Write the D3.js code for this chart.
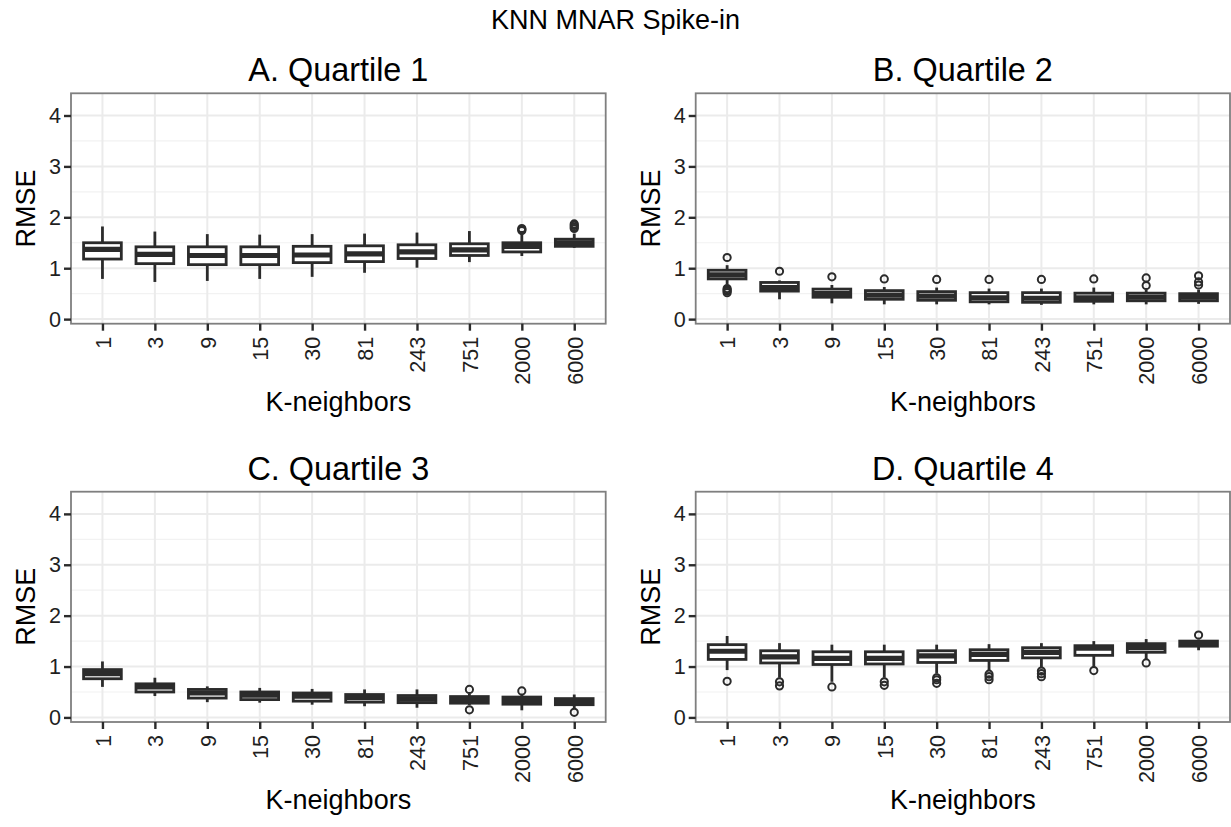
<!DOCTYPE html>
<html>
<head>
<meta charset="utf-8">
<script src="https://cdn.jsdelivr.net/npm/d3@7"></script>
<style>
  html, body { margin: 0; padding: 0; background: #ffffff; }
  svg { display: block; font-family: "Liberation Sans", Arial, Helvetica, sans-serif; }
</style>
</head>
<body>
<svg id="chart" width="1231" height="827"></svg>
<script>
// K-neighbour settings on the x axis
const kLabels = ["1", "3", "9", "15", "30", "81", "243", "751", "2000", "6000"];
const yTicks = [0, 1, 2, 3, 4];

// Quartile 1: box-plot statistics per K
const q1Low  = [0.79, 0.73, 0.75, 0.79, 0.83, 0.91, 1.01, 1.12, 1.24, 1.40];
const q1Q1   = [1.18, 1.09, 1.07, 1.07, 1.11, 1.13, 1.19, 1.25, 1.32, 1.43];
const q1Med  = [1.37, 1.27, 1.25, 1.25, 1.26, 1.28, 1.32, 1.36, 1.43, 1.50];
const q1Q3   = [1.50, 1.42, 1.42, 1.42, 1.43, 1.44, 1.46, 1.48, 1.50, 1.57];
const q1High = [1.82, 1.72, 1.67, 1.66, 1.67, 1.68, 1.70, 1.73, 1.68, 1.68];
const q1Out  = [[], [], [], [], [], [], [], [], [1.78, 1.76, 1.74], [1.87, 1.84, 1.81, 1.78]];

// Quartile 2
const q2Low  = [0.68, 0.39, 0.31, 0.29, 0.29, 0.29, 0.28, 0.29, 0.29, 0.30];
const q2Q1   = [0.79, 0.55, 0.43, 0.39, 0.37, 0.34, 0.33, 0.35, 0.36, 0.36];
const q2Med  = [0.87, 0.62, 0.50, 0.47, 0.45, 0.42, 0.41, 0.42, 0.43, 0.43];
const q2Q3   = [0.96, 0.72, 0.59, 0.56, 0.54, 0.52, 0.52, 0.51, 0.51, 0.50];
const q2High = [1.06, 0.76, 0.67, 0.63, 0.62, 0.60, 0.60, 0.62, 0.58, 0.58];
const q2Out  = [[1.21, 0.60, 0.57, 0.55, 0.52], [0.94], [0.83], [0.79], [0.78], [0.78], [0.78], [0.79], [0.81, 0.66], [0.85, 0.73, 0.67]];

// Quartile 3
const q3Low  = [0.60, 0.42, 0.30, 0.29, 0.25, 0.22, 0.19, 0.24, 0.14, 0.17];
const q3Q1   = [0.76, 0.50, 0.38, 0.35, 0.32, 0.30, 0.29, 0.28, 0.26, 0.25];
const q3Med  = [0.86, 0.60, 0.48, 0.44, 0.42, 0.39, 0.36, 0.35, 0.33, 0.31];
const q3Q3   = [0.94, 0.66, 0.55, 0.50, 0.48, 0.45, 0.43, 0.41, 0.40, 0.37];
const q3High = [1.10, 0.78, 0.61, 0.58, 0.56, 0.55, 0.55, 0.47, 0.45, 0.45];
const q3Out  = [[], [], [], [], [], [], [], [0.55, 0.15], [0.52], [0.10]];

// Quartile 4
const q4Low  = [0.93, 0.78, 0.70, 0.78, 0.86, 0.92, 0.97, 0.98, 1.14, 1.32];
const q4Q1   = [1.14, 1.07, 1.04, 1.05, 1.08, 1.12, 1.17, 1.22, 1.28, 1.40];
const q4Med  = [1.30, 1.19, 1.16, 1.16, 1.21, 1.24, 1.28, 1.36, 1.37, 1.46];
const q4Q3   = [1.43, 1.31, 1.29, 1.29, 1.31, 1.33, 1.37, 1.41, 1.45, 1.50];
const q4High = [1.60, 1.46, 1.43, 1.43, 1.43, 1.44, 1.46, 1.50, 1.54, 1.53];
const q4Out  = [[0.71], [0.70, 0.62], [0.60], [0.70, 0.63], [0.78, 0.74, 0.67], [0.85, 0.80, 0.74], [0.91, 0.86, 0.80], [0.92], [1.07], [1.62]];

const panelTitles = ["A. Quartile 1", "B. Quartile 2", "C. Quartile 3", "D. Quartile 4"];
const mainTitle = "KNN MNAR Spike-in";
const xTitle = "K-neighbors";
const yTitle = "RMSE";

function rows(lo, a, m, b, hi, out) {
  return kLabels.map((k, i) => ({ k, lo: lo[i], q1: a[i], med: m[i], q3: b[i], hi: hi[i], out: out[i] }));
}
const panelData = [
  rows(q1Low, q1Q1, q1Med, q1Q3, q1High, q1Out),
  rows(q2Low, q2Q1, q2Med, q2Q3, q2High, q2Out),
  rows(q3Low, q3Q1, q3Med, q3Q3, q3High, q3Out),
  rows(q4Low, q4Q1, q4Med, q4Q3, q4High, q4Out)
];

// plot-area frames for the 2 x 2 grid
const cols = [[71, 605.7], [695.7, 1230]];
const rowsY = [[93.3, 323.7], [491.7, 722]];

const svg = d3.select("#chart");
const ink = "#2b2b2b";
const labelInk = "#1f1f1f";

svg.append("text")
  .attr("x", 615.5).attr("y", 29)
  .attr("text-anchor", "middle")
  .style("font-size", "27px").style("fill", "#000")
  .text(mainTitle);

panelData.forEach((data, p) => {
  const [x0, x1] = cols[p % 2];
  const [y0, y1] = rowsY[Math.floor(p / 2)];

  const x = d3.scalePoint().domain(kLabels).range([x0, x1]).padding(0.6);
  const y = d3.scaleLinear().domain([-0.09, 4.436]).range([y1, y0]);
  const boxW = x.step() * 0.72;

  const g = svg.append("g");

  // grid
  const minor = [0.5, 1.5, 2.5, 3.5];
  g.selectAll(".minor").data(minor).join("line")
    .attr("x1", x0).attr("x2", x1)
    .attr("y1", d => y(d)).attr("y2", d => y(d))
    .attr("stroke", "#f2f2f2").attr("stroke-width", 1.2);
  g.selectAll(".majorY").data(yTicks).join("line")
    .attr("x1", x0).attr("x2", x1)
    .attr("y1", d => y(d)).attr("y2", d => y(d))
    .attr("stroke", "#ebebeb").attr("stroke-width", 2);
  g.selectAll(".majorX").data(kLabels).join("line")
    .attr("x1", d => x(d)).attr("x2", d => x(d))
    .attr("y1", y0).attr("y2", y1)
    .attr("stroke", "#ebebeb").attr("stroke-width", 2);

  // outliers
  const pts = [];
  data.forEach(d => d.out.forEach(v => pts.push({ k: d.k, v })));
  g.selectAll(".out").data(pts).join("circle")
    .attr("cx", d => x(d.k)).attr("cy", d => y(d.v))
    .attr("r", 3.6)
    .attr("fill", "none").attr("stroke", ink).attr("stroke-width", 2);

  // whiskers
  g.selectAll(".wh").data(data).join("line")
    .attr("x1", d => x(d.k)).attr("x2", d => x(d.k))
    .attr("y1", d => y(d.hi)).attr("y2", d => y(d.q3))
    .attr("stroke", ink).attr("stroke-width", 2.8);
  g.selectAll(".wl").data(data).join("line")
    .attr("x1", d => x(d.k)).attr("x2", d => x(d.k))
    .attr("y1", d => y(d.q1)).attr("y2", d => y(d.lo))
    .attr("stroke", ink).attr("stroke-width", 2.8);

  // boxes
  g.selectAll(".box").data(data).join("rect")
    .attr("x", d => x(d.k) - boxW / 2).attr("width", boxW)
    .attr("y", d => y(d.q3)).attr("height", d => y(d.q1) - y(d.q3))
    .attr("fill", "#ffffff").attr("stroke", ink).attr("stroke-width", 2.8);

  // medians
  g.selectAll(".med").data(data).join("line")
    .attr("x1", d => x(d.k) - boxW / 2).attr("x2", d => x(d.k) + boxW / 2)
    .attr("y1", d => y(d.med)).attr("y2", d => y(d.med))
    .attr("stroke", ink).attr("stroke-width", 5.2);

  // panel border
  g.append("rect")
    .attr("x", x0).attr("y", y0).attr("width", x1 - x0).attr("height", y1 - y0)
    .attr("fill", "none").attr("stroke", "#7f7f7f").attr("stroke-width", 1.8);

  // y axis
  const ya = g.append("g").attr("transform", `translate(${x0},0)`)
    .call(d3.axisLeft(y).tickValues(yTicks).tickFormat(d3.format("d")).tickSize(7).tickPadding(3));
  ya.select(".domain").remove();
  ya.selectAll(".tick line").attr("stroke", ink).attr("stroke-width", 2.4);
  ya.selectAll(".tick text").style("font-size", "21.6px").style("fill", labelInk)
    .style("font-family", "'Liberation Sans', Arial, sans-serif");

  // x axis
  const xa = g.append("g").attr("transform", `translate(0,${y1})`)
    .call(d3.axisBottom(x).tickSize(7));
  xa.select(".domain").remove();
  xa.selectAll(".tick line").attr("stroke", ink).attr("stroke-width", 2.4);
  xa.selectAll(".tick text")
    .attr("transform", "rotate(-90)")
    .attr("x", -13).attr("y", 0).attr("dy", "0.36em")
    .style("text-anchor", "end")
    .style("font-size", "21.6px").style("fill", labelInk)
    .style("font-family", "'Liberation Sans', Arial, sans-serif");

  // titles
  const cx = (x0 + x1) / 2;
  g.append("text").attr("x", cx).attr("y", y0 - 12)
    .attr("text-anchor", "middle")
    .style("font-size", "32.4px").style("fill", "#000")
    .text(panelTitles[p]);
  g.append("text").attr("x", cx).attr("y", y1 + 87)
    .attr("text-anchor", "middle")
    .style("font-size", "27px").style("fill", "#000")
    .text(xTitle);
  g.append("text")
    .attr("transform", `translate(${x0 - 36},${(y0 + y1) / 2}) rotate(-90)`)
    .attr("text-anchor", "middle")
    .style("font-size", "27px").style("fill", "#000")
    .text(yTitle);
});
</script>
</body>
</html>
